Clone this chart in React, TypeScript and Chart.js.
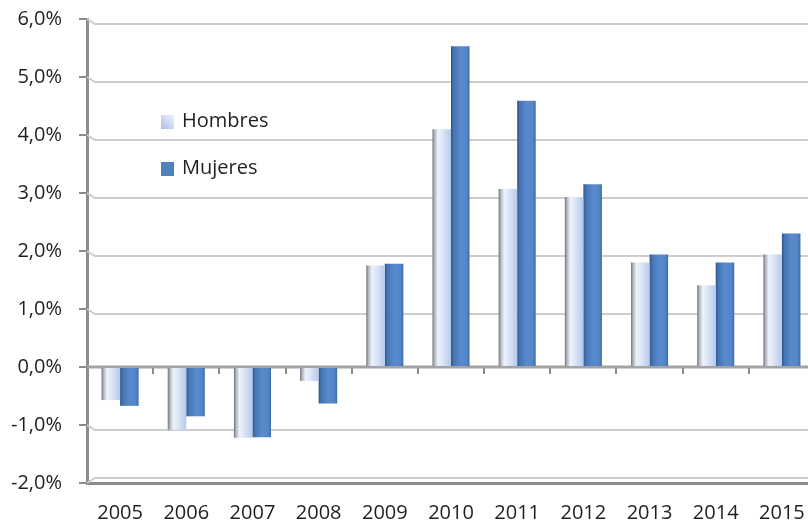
import React, { useEffect, useRef } from "react";
import { Chart, registerables } from "chart.js";

Chart.register(...registerables);

const categories = ["2005", "2006", "2007", "2008", "2009", "2010", "2011", "2012", "2013", "2014", "2015"];
const hombres = [-0.57, -1.08, -1.22, -0.24, 1.75, 4.1, 3.07, 2.93, 1.8, 1.41, 1.94];
const mujeres = [-0.67, -0.85, -1.21, -0.63, 1.78, 5.53, 4.59, 3.15, 1.94, 1.8, 2.3];
const seriesNames = ["Hombres", "Mujeres"];
const yMin = -2;
const yMax = 6;
const yStep = 1;

const FONT = "'Open Sans', sans-serif";
const CAT_PCT = 0.56;

const hombresStops: [number, string][] = [
  [0, "#6e737c"],
  [0.12, "#b3b8c3"],
  [0.3, "#eef2fa"],
  [0.55, "#dde6f7"],
  [1, "#b6c9ec"],
];
const mujeresStops: [number, string][] = [
  [0, "#2a5185"],
  [0.12, "#4473b0"],
  [0.5, "#5a8ace"],
  [0.85, "#5386c8"],
  [1, "#3d6aa6"],
];

function barGradient(context: any) {
  const chart = context.chart;
  const xs = chart.scales && chart.scales.x;
  const stops = context.datasetIndex === 0 ? hombresStops : mujeresStops;
  const fallback = stops[2][1];
  if (!xs || context.dataIndex === undefined) return fallback;
  const center = xs.getPixelForValue(context.dataIndex);
  const catW = xs.width / categories.length;
  if (!isFinite(center) || !isFinite(catW) || catW <= 0) return fallback;
  const bw = (catW * CAT_PCT) / 2;
  const left = context.datasetIndex === 0 ? center - bw : center;
  const g = chart.ctx.createLinearGradient(left, 0, left + bw, 0);
  stops.forEach(([o, c]) => g.addColorStop(o, c));
  return g;
}

const wallPlugin = {
  id: "wall",
  beforeDatasetsDraw(chart: any) {
    const { ctx, chartArea, scales } = chart;
    const ys = scales.y;
    const xs = scales.x;
    ctx.save();
    ctx.strokeStyle = "#cdcdcd";
    ctx.lineWidth = 2;
    for (let v = yMin + yStep; v <= yMax; v += yStep) {
      if (v === 0) continue;
      const y = ys.getPixelForValue(v);
      ctx.beginPath();
      ctx.moveTo(chartArea.left, y);
      ctx.lineTo(chartArea.left + 8, y + 5);
      ctx.lineTo(chartArea.right + 20, y + 5);
      ctx.stroke();
    }
    const yb = ys.getPixelForValue(yMin);
    ctx.beginPath();
    ctx.moveTo(chartArea.left, yb);
    ctx.lineTo(chartArea.left + 8, yb - 5);
    ctx.lineTo(chartArea.right + 20, yb - 5);
    ctx.stroke();
    const y0 = ys.getPixelForValue(0);
    ctx.strokeStyle = "#a3a3a3";
    ctx.lineWidth = 3;
    ctx.beginPath();
    ctx.moveTo(chartArea.left, y0);
    ctx.lineTo(chartArea.right + 20, y0);
    ctx.stroke();
    const catW = xs.width / categories.length;
    ctx.strokeStyle = "#8c8c8c";
    ctx.lineWidth = 2;
    for (let i = 0; i < categories.length; i++) {
      const bx = Math.round(xs.getPixelForValue(i) + catW / 2);
      ctx.beginPath();
      ctx.moveTo(bx, y0 + 1);
      ctx.lineTo(bx, y0 + 7);
      ctx.stroke();
    }
    ctx.restore();
  },
  afterDraw(chart: any) {
    const { ctx, chartArea } = chart;
    ctx.save();
    const lx = chartArea.left + 74;
    const ly = chartArea.top + 96;
    const gap = 47;
    seriesNames.forEach((name, i) => {
      const y = ly + i * gap;
      if (i === 0) {
        const g = ctx.createLinearGradient(lx, y + 14, lx + 13, y);
        g.addColorStop(0, "#a9bfe8");
        g.addColorStop(1, "#eef3fc");
        ctx.fillStyle = g;
      } else {
        ctx.fillStyle = "#4f81bd";
      }
      ctx.fillRect(lx, y, 13, 14);
      ctx.fillStyle = "#1f1f1f";
      ctx.font = `20px ${FONT}`;
      ctx.textBaseline = "middle";
      ctx.textAlign = "left";
      ctx.fillText(name, lx + 21, y + 6);
    });
    ctx.restore();
  },
};

export default function App() {
  const ref = useRef<HTMLCanvasElement | null>(null);
  useEffect(() => {
    if (!ref.current) return;
    const chart = new Chart(ref.current, {
      type: "bar",
      data: {
        labels: categories,
        datasets: [
          { label: seriesNames[0], data: hombres, backgroundColor: barGradient as any, borderWidth: 0 },
          { label: seriesNames[1], data: mujeres, backgroundColor: barGradient as any, borderWidth: 0 },
        ],
      },
      options: {
        responsive: false,
        animation: false,
        devicePixelRatio: 1,
        layout: { padding: { top: 19, right: 3, left: 0, bottom: 0 } },
        datasets: { bar: { categoryPercentage: CAT_PCT, barPercentage: 1 } },
        plugins: { legend: { display: false }, tooltip: { enabled: false } },
        scales: {
          x: {
            grid: { display: false, drawTicks: false },
            border: { display: true, color: "#8c8c8c", width: 3 },
            ticks: { color: "#1f1f1f", font: { family: FONT, size: 20 }, padding: 18, maxRotation: 0 },
            afterFit: (s: any) => {
              s.height = 40;
              s.paddingLeft = 0;
              s.paddingRight = 0;
            },
          },
          y: {
            min: yMin,
            max: yMax,
            ticks: {
              stepSize: yStep,
              color: "#1f1f1f",
              font: { family: FONT, size: 20 },
              padding: 17,
              callback: (v: any) => Number(v).toFixed(1).replace(".", ",") + "%",
            },
            grid: { drawOnChartArea: false, drawTicks: true, tickLength: 8, color: "#8c8c8c", lineWidth: 2 },
            border: { display: true, color: "#8c8c8c", width: 3 },
            afterFit: (s: any) => {
              s.width = 87;
              s.paddingTop = 0;
              s.paddingBottom = 0;
            },
          },
        },
      },
      plugins: [wallPlugin],
    });
    return () => chart.destroy();
  }, []);
  return (
    <div style={{ position: "fixed", left: 0, top: 0, width: 808, height: 523, overflow: "hidden", background: "#fff" }}>
      <canvas ref={ref} width={818} height={523} style={{ display: "block" }} />
    </div>
  );
}
